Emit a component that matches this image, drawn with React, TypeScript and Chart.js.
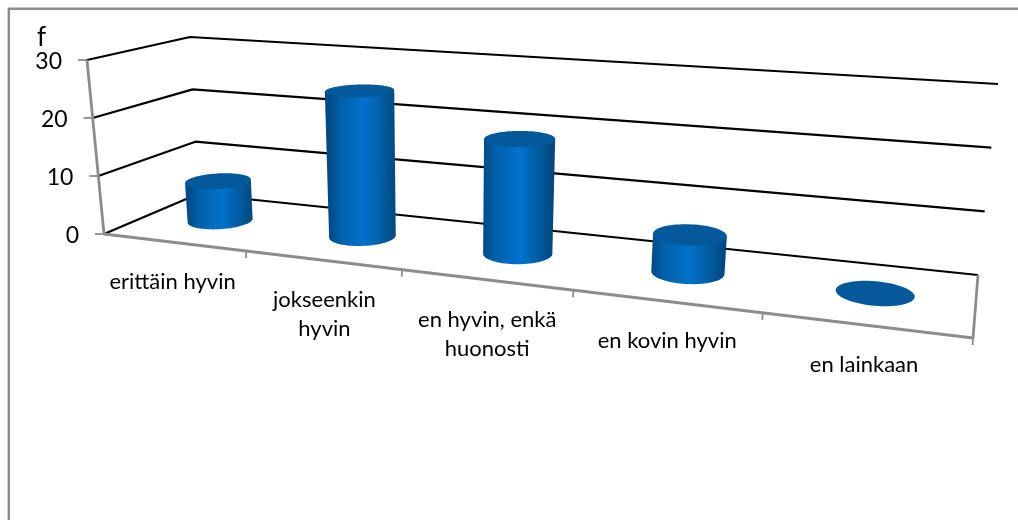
import React, { useEffect, useRef } from "react";
import { Chart, BarController, BarElement, CategoryScale, LinearScale } from "chart.js";

// Survey answers and their frequencies
const categories: (string | string[])[] = [
  "erittäin hyvin",
  ["jokseenkin", "hyvin"],
  ["en hyvin, enkä", "huonosti"],
  "en kovin hyvin",
  "en lainkaan",
];
const frequencies = [7, 25, 19, 6, 0];
const axisTitle = "f";
const axisMax = 30;
const axisStep = 10;

type Pt = [number, number];

// Corners of the floor: front-left, front-right, back-right, back-left
const FLOOR: Pt[] = [[104, 234], [973, 338], [978, 275], [198, 194]];
// Full-height vectors rising from those corners
const RISE: Pt[] = [[-17, -174], [24, -210], [20, -191], [-8, -157]];
const DEPTH_CENTRE = 0.5;
const DEPTH_RADIUS = 0.2;
const FONT = "Lato";
// Horizontal adjustment of the category captions
const CAPTION_NUDGE = [-1, 2, 1.5, 1.5, -1];

function homography(q: Pt[]) {
  const [[x0, y0], [x1, y1], [x2, y2], [x3, y3]] = q;
  const sx = x0 - x1 + x2 - x3;
  const sy = y0 - y1 + y2 - y3;
  const dx1 = x1 - x2, dx2 = x3 - x2, dy1 = y1 - y2, dy2 = y3 - y2;
  const det = dx1 * dy2 - dx2 * dy1;
  const g = (sx * dy2 - dx2 * sy) / det;
  const h = (dx1 * sy - sx * dy1) / det;
  const a = x1 - x0 + g * x1, b = x3 - x0 + h * x3;
  const d = y1 - y0 + g * y1, e = y3 - y0 + h * y3;
  return (u: number, v: number): Pt => {
    const w = g * u + h * v + 1;
    return [(a * u + b * v + x0) / w, (d * u + e * v + y0) / w];
  };
}

const floorAt = homography(FLOOR);
const mix = (a: number, b: number, t: number) => a + (b - a) * t;

// u: along the categories, v: depth into the box, h: share of the value axis
function project(u: number, v: number, h: number): Pt {
  const p = floorAt(u, v);
  const tf = (p[0] - FLOOR[0][0]) / (FLOOR[1][0] - FLOOR[0][0]);
  const tb = (p[0] - FLOOR[3][0]) / (FLOOR[2][0] - FLOOR[3][0]);
  const rise = [0, 1].map((k) =>
    mix(mix(RISE[0][k], RISE[1][k], tf), mix(RISE[3][k], RISE[2][k], tb), v)
  );
  return [p[0] + rise[0] * h, p[1] + rise[1] * h];
}

function polyline(ctx: CanvasRenderingContext2D, pts: Pt[], color: string, width: number) {
  ctx.beginPath();
  pts.forEach((p, i) => (i ? ctx.lineTo(p[0], p[1]) : ctx.moveTo(p[0], p[1])));
  ctx.strokeStyle = color;
  ctx.lineWidth = width;
  ctx.lineJoin = "round";
  ctx.stroke();
}

class CylinderElement extends BarElement {
  static id = "cylinder";

  draw(ctx: CanvasRenderingContext2D, area: any) {
    const { x, y, base, width } = this as any;
    const w = area.right - area.left;
    const u = (x - area.left) / w;
    const ru = width / w / 2;
    const h = (base - y) / (area.bottom - area.top);
    const ring = (level: number) => {
      const pts: Pt[] = [];
      for (let i = 0; i < 72; i++) {
        const t = (i / 72) * Math.PI * 2;
        pts.push(project(u + ru * Math.cos(t), DEPTH_CENTRE + DEPTH_RADIUS * Math.sin(t), level));
      }
      return pts;
    };
    const fillPath = (pts: Pt[], style: any) => {
      ctx.beginPath();
      pts.forEach((p, i) => (i ? ctx.lineTo(p[0], p[1]) : ctx.moveTo(p[0], p[1])));
      ctx.closePath();
      ctx.fillStyle = style;
      ctx.fill();
    };
    const low = ring(0);
    const high = ring(h);
    ctx.save();
    if (h > 0) {
      // Side wall: the front half of the lower ring joined to the rim of the upper one
      const left = Math.min(...low.map((p) => p[0]));
      const right = Math.max(...low.map((p) => p[0]));
      const grad = ctx.createLinearGradient(left, 0, right, 0);
      grad.addColorStop(0, "#014a84");
      grad.addColorStop(0.18, "#0261ab");
      grad.addColorStop(0.52, "#0272cc");
      grad.addColorStop(0.8, "#025c9f");
      grad.addColorStop(1, "#01487f");
      const extremes = (pts: Pt[]) => ({
        il: pts.reduce((m, p, i) => (p[0] < pts[m][0] ? i : m), 0),
        ir: pts.reduce((m, p, i) => (p[0] > pts[m][0] ? i : m), 0),
      });
      const a = extremes(low);
      const b = extremes(high);
      const side: Pt[] = [];
      // the near half of a ring runs from its right extreme to its left extreme through the front
      for (let i = a.ir; ; i = (i + 71) % 72) {
        side.push(low[i]);
        if (i === a.il) break;
      }
      side.push(high[b.il], high[b.ir]);
      fillPath(side, grad);
    }
    fillPath(high, (this as any).options.backgroundColor);
    ctx.restore();
  }
}

class CylinderController extends BarController {
  static id = "cylinder";
  static defaults = { ...(BarController as any).defaults, dataElementType: "cylinder" };

  draw() {
    const meta = (this as any)._cachedMeta;
    const area = (this as any).chart.chartArea;
    meta.data.forEach((el: any) => el.draw((this as any)._ctx, area));
  }
}

Chart.register(CategoryScale, LinearScale, BarElement, BarController, CylinderElement, CylinderController);

// White page, the frame, the walls with their level lines, the axes and all the captions
const boxPlugin = {
  id: "box",
  beforeDatasetsDraw(chart: any) {
    const ctx: CanvasRenderingContext2D = chart.ctx;
    const xs = chart.scales.x;
    const ys = chart.scales.y;
    const area = chart.chartArea;
    const share = (v: number) => (area.bottom - ys.getPixelForValue(v)) / (area.bottom - area.top);
    const along = (px: number) => (px - area.left) / (area.right - area.left);

    ctx.save();
    ctx.fillStyle = "#ffffff";
    ctx.fillRect(0, 0, chart.width, chart.height);

    const gray = "#8c8c8c";
    polyline(ctx, [[8.8, chart.height], [8.8, 8.8], [chart.width, 8.8]], gray, 2.4);

    ys.ticks.forEach((t: any) => {
      const h = share(t.value);
      polyline(ctx, [project(0, 0, h), project(0, 1, h), project(1, 1, h)], "#000000", 2.2);
    });

    polyline(ctx, [project(0, 0, 1), project(0, 0, 0), project(1, 0, 0), project(1, 1, 0)], gray, 2.8);

    ctx.fillStyle = "#000000";
    ctx.textBaseline = "middle";
    ctx.textAlign = "right";
    ctx.font = `23px ${FONT}`;
    ys.ticks.forEach((t: any) => {
      const p = project(0, 0, share(t.value));
      polyline(ctx, [[p[0] - 9, p[1]], p], gray, 1.8);
      ctx.fillText(String(t.value), p[0] - 25, p[1] + 1.5);
    });
    const title = project(0, 0, 1);
    ctx.textAlign = "left";
    ctx.font = `26px ${FONT}`;
    ctx.fillText(ys.options.title.text, title[0] - 50, title[1] - 22);

    const n = categories.length;
    const slot = xs.getPixelForValue(1) - xs.getPixelForValue(0);
    for (let i = 0; i <= n; i++) {
      const px = xs.getPixelForValue(0) + slot * (i - 0.5);
      const p = project(along(px), 0, 0);
      if (i > 0) polyline(ctx, [p, [p[0] - 0.5, p[1] + 7]], gray, 1.8);
    }

    ctx.font = `22px ${FONT}`;
    ctx.textAlign = "center";
    categories.forEach((label, i) => {
      const p = project(along(xs.getPixelForValue(i)), 0, 0);
      const lines = Array.isArray(label) ? label : [label];
      lines.forEach((line, k) => {
        ctx.fillText(line, p[0] + CAPTION_NUDGE[i], p[1] + 40 + k * 29);
      });
    });
    ctx.restore();
  },
};

export default function App() {
  const ref = useRef<HTMLCanvasElement>(null);
  useEffect(() => {
    const chart = new Chart(ref.current as HTMLCanvasElement, {
      type: "cylinder" as any,
      data: {
        labels: categories as any,
        datasets: [
          {
            label: axisTitle,
            data: frequencies,
            backgroundColor: "#03599a",
            barPercentage: 0.4,
            categoryPercentage: 1,
          } as any,
        ],
      },
      options: {
        animation: false,
        responsive: false,
        layout: { padding: 0 },
        plugins: { legend: { display: false }, tooltip: { enabled: false } } as any,
        scales: {
          x: { type: "category", display: false },
          y: {
            type: "linear",
            display: false,
            min: 0,
            max: axisMax,
            ticks: { stepSize: axisStep },
            title: { display: false, text: axisTitle },
          },
        },
      },
      plugins: [boxPlugin],
    });
    return () => chart.destroy();
  }, []);
  return (
    <div style={{ position: "fixed", left: 0, top: 0, width: 1018, height: 520, background: "#fff" }}>
      <canvas ref={ref} width={1018} height={520} style={{ display: "block" }} />
    </div>
  );
}
